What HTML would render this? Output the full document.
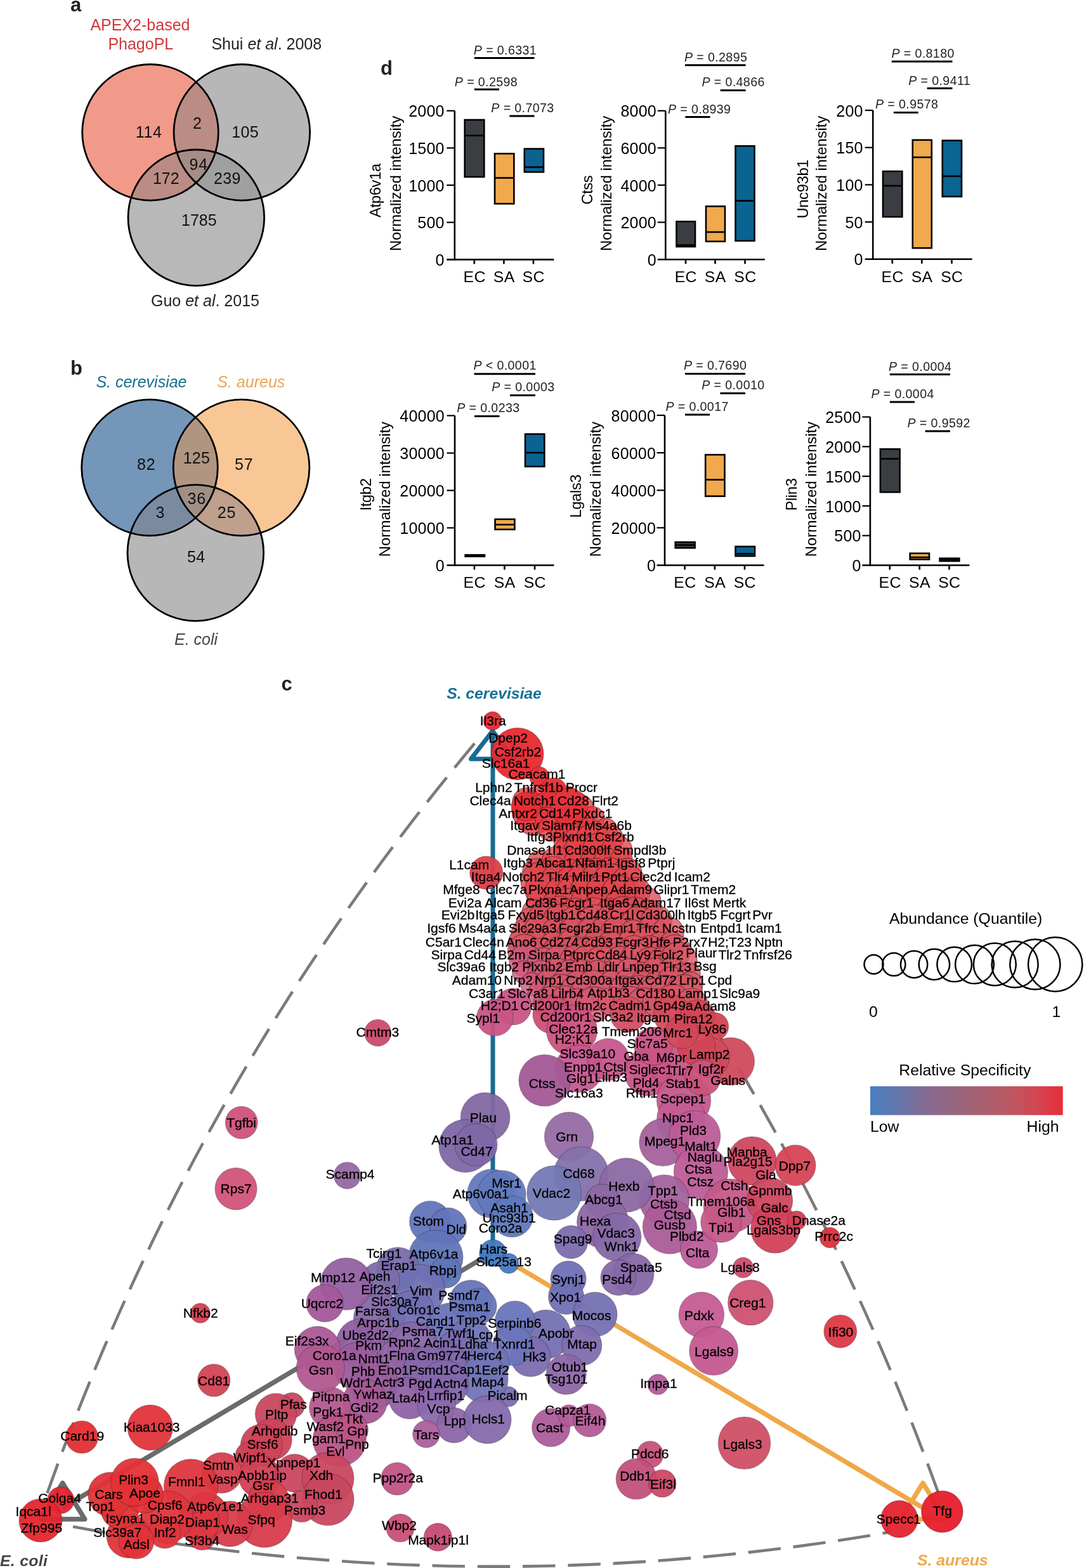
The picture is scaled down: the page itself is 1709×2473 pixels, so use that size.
<!DOCTYPE html>
<html><head><meta charset="utf-8"><title>Figure</title>
<style>
html,body{margin:0;padding:0;background:#fff;}
body{width:1709px;height:2473px;overflow:hidden;}
svg{display:block;font-family:"Liberation Sans", Arial, Helvetica, sans-serif;}
</style></head><body>
<svg width="1709" height="2473" viewBox="0 0 1709 2473">
<rect width="1709" height="2473" fill="#fff"/>
<text x="111" y="18" font-size="31" text-anchor="start" font-weight="bold" font-style="normal" fill="#231f20" >a</text>
<defs><clipPath id="vaA"><circle cx="237" cy="208.8" r="107.3"/></clipPath><clipPath id="vaB"><circle cx="381.3" cy="208.8" r="107.3"/></clipPath><clipPath id="vaC"><circle cx="309.3" cy="343.3" r="107.3"/></clipPath></defs>
<circle cx="237" cy="208.8" r="107.3" fill="#f19a8a"/>
<circle cx="381.3" cy="208.8" r="107.3" fill="#b7b7b7"/>
<circle cx="309.3" cy="343.3" r="107.3" fill="#b8b8b8"/>
<g clip-path="url(#vaA)"><circle cx="381.3" cy="208.8" r="107.3" fill="#bb8c84"/><circle cx="309.3" cy="343.3" r="107.3" fill="#bb8c84"/></g>
<g clip-path="url(#vaB)"><circle cx="309.3" cy="343.3" r="107.3" fill="#a0a0a1"/></g>
<g clip-path="url(#vaA)"><g clip-path="url(#vaB)"><circle cx="309.3" cy="343.3" r="107.3" fill="#a58c87"/></g></g>
<circle cx="237" cy="208.8" r="107.3" fill="none" stroke="#000" stroke-width="2.8"/>
<circle cx="381.3" cy="208.8" r="107.3" fill="none" stroke="#000" stroke-width="2.8"/>
<circle cx="309.3" cy="343.3" r="107.3" fill="none" stroke="#000" stroke-width="2.8"/>
<text x="142.4" y="47.8" font-size="25" text-anchor="start" font-weight="normal" font-style="normal" fill="#d2373c" >APEX2-based</text>
<text x="170.4" y="77.9" font-size="25" text-anchor="start" font-weight="normal" font-style="normal" fill="#d2373c" >PhagoPL</text>
<text x="333.4" y="77.6" font-size="25" fill="#231f20">Shui <tspan font-style="italic">et al</tspan>. 2008</text>
<text x="238" y="483" font-size="25" fill="#231f20">Guo <tspan font-style="italic">et al</tspan>. 2015</text>
<text x="213.83" y="216.5" font-size="25" text-anchor="start" font-weight="normal" font-style="normal" fill="#111" letter-spacing="0.6">114</text>
<text x="303.98" y="202.6" font-size="25" text-anchor="start" font-weight="normal" font-style="normal" fill="#111" letter-spacing="0">2</text>
<text x="365.23" y="216.5" font-size="25" text-anchor="start" font-weight="normal" font-style="normal" fill="#111" letter-spacing="0.4">105</text>
<text x="298.38" y="267.5" font-size="25" text-anchor="start" font-weight="normal" font-style="normal" fill="#111" letter-spacing="0.9">94</text>
<text x="240.93" y="289.6" font-size="25" text-anchor="start" font-weight="normal" font-style="normal" fill="#111" letter-spacing="0">172</text>
<text x="336.98" y="289.6" font-size="25" text-anchor="start" font-weight="normal" font-style="normal" fill="#111" letter-spacing="0.4">239</text>
<text x="286.03" y="356.3" font-size="25" text-anchor="start" font-weight="normal" font-style="normal" fill="#111" letter-spacing="0">1785</text>
<text x="111" y="590.8" font-size="31" text-anchor="start" font-weight="bold" font-style="normal" fill="#231f20" >b</text>
<defs><clipPath id="vbA"><circle cx="236" cy="737.5" r="107.3"/></clipPath><clipPath id="vbB"><circle cx="380.5" cy="737.5" r="107.3"/></clipPath><clipPath id="vbC"><circle cx="308.3" cy="872" r="107.3"/></clipPath></defs>
<circle cx="236" cy="737.5" r="107.3" fill="#7396b9"/>
<circle cx="380.5" cy="737.5" r="107.3" fill="#f8c795"/>
<circle cx="308.3" cy="872" r="107.3" fill="#b7b7b7"/>
<g clip-path="url(#vbA)"><circle cx="380.5" cy="737.5" r="107.3" fill="#b09581"/><circle cx="308.3" cy="872" r="107.3" fill="#7b8b9f"/></g>
<g clip-path="url(#vbB)"><circle cx="308.3" cy="872" r="107.3" fill="#bea08c"/></g>
<g clip-path="url(#vbA)"><g clip-path="url(#vbB)"><circle cx="308.3" cy="872" r="107.3" fill="#9f8f85"/></g></g>
<circle cx="236" cy="737.5" r="107.3" fill="none" stroke="#000" stroke-width="2.8"/>
<circle cx="380.5" cy="737.5" r="107.3" fill="none" stroke="#000" stroke-width="2.8"/>
<circle cx="308.3" cy="872" r="107.3" fill="none" stroke="#000" stroke-width="2.8"/>
<text x="151.4" y="610.6" font-size="25" text-anchor="start" font-weight="normal" font-style="italic" fill="#166e8c" >S. cerevisiae</text>
<text x="342.3" y="610.6" font-size="25" text-anchor="start" font-weight="normal" font-style="italic" fill="#eba555" >S. aureus</text>
<text x="275" y="1016.6" font-size="25" text-anchor="start" font-weight="normal" font-style="italic" fill="#454545" >E. coli</text>
<text x="215.98" y="740.5" font-size="25" text-anchor="start" font-weight="normal" font-style="normal" fill="#111" letter-spacing="0.9">82</text>
<text x="288.73" y="730.5" font-size="25" text-anchor="start" font-weight="normal" font-style="normal" fill="#111" letter-spacing="0.2">125</text>
<text x="370.07" y="740.5" font-size="25" text-anchor="start" font-weight="normal" font-style="normal" fill="#111" letter-spacing="0.9">57</text>
<text x="295.38" y="795.3" font-size="25" text-anchor="start" font-weight="normal" font-style="normal" fill="#111" letter-spacing="0.9">36</text>
<text x="245.38" y="816.6" font-size="25" text-anchor="start" font-weight="normal" font-style="normal" fill="#111" letter-spacing="0">3</text>
<text x="342.78" y="816.6" font-size="25" text-anchor="start" font-weight="normal" font-style="normal" fill="#111" letter-spacing="0.9">25</text>
<text x="294.98" y="887.2" font-size="25" text-anchor="start" font-weight="normal" font-style="normal" fill="#111" letter-spacing="0.5">54</text>
<text x="600" y="117.8" font-size="31" text-anchor="start" font-weight="bold" font-style="normal" fill="#231f20" >d</text>
<line x1="716.8" y1="174.7" x2="716.8" y2="410.59999999999997" stroke="#000" stroke-width="2.6"/>
<line x1="704.3" y1="409.4" x2="873.3" y2="409.4" stroke="#000" stroke-width="2.6"/>
<text x="700.6" y="419.0" font-size="25" text-anchor="end" font-weight="normal" font-style="normal" fill="#000" letter-spacing="0.2">0</text>
<line x1="704.3" y1="350.72499999999997" x2="716.8" y2="350.72499999999997" stroke="#000" stroke-width="2.2"/>
<text x="700.6" y="360.325" font-size="25" text-anchor="end" font-weight="normal" font-style="normal" fill="#000" letter-spacing="0.2">500</text>
<line x1="704.3" y1="292.04999999999995" x2="716.8" y2="292.04999999999995" stroke="#000" stroke-width="2.2"/>
<text x="700.6" y="301.65" font-size="25" text-anchor="end" font-weight="normal" font-style="normal" fill="#000" letter-spacing="0.2">1000</text>
<line x1="704.3" y1="233.375" x2="716.8" y2="233.375" stroke="#000" stroke-width="2.2"/>
<text x="700.6" y="242.975" font-size="25" text-anchor="end" font-weight="normal" font-style="normal" fill="#000" letter-spacing="0.2">1500</text>
<line x1="704.3" y1="174.7" x2="716.8" y2="174.7" stroke="#000" stroke-width="2.2"/>
<text x="700.6" y="184.29999999999998" font-size="25" text-anchor="end" font-weight="normal" font-style="normal" fill="#000" letter-spacing="0.2">2000</text>
<line x1="747.8" y1="409.4" x2="747.8" y2="416.4" stroke="#000" stroke-width="2.6"/>
<line x1="794.4" y1="409.4" x2="794.4" y2="416.4" stroke="#000" stroke-width="2.6"/>
<line x1="840.9" y1="409.4" x2="840.9" y2="416.4" stroke="#000" stroke-width="2.6"/>
<text x="748.0999999999999" y="445.2" font-size="24.8" text-anchor="middle" font-weight="normal" font-style="normal" fill="#000" letter-spacing="0.4">EC</text>
<text x="794.6999999999999" y="445.2" font-size="24.8" text-anchor="middle" font-weight="normal" font-style="normal" fill="#000" letter-spacing="0.4">SA</text>
<text x="841.1999999999999" y="445.2" font-size="24.8" text-anchor="middle" font-weight="normal" font-style="normal" fill="#000" letter-spacing="0.4">SC</text>
<rect x="732.7" y="189" width="30.59999999999991" height="90" fill="#3a3d42" stroke="#000" stroke-width="2.6"/>
<line x1="732.7" y1="213.8" x2="763.3" y2="213.8" stroke="#000" stroke-width="2.6"/>
<rect x="780" y="242.3" width="30.299999999999955" height="79.0" fill="#f0a94c" stroke="#000" stroke-width="2.6"/>
<line x1="780" y1="280.6" x2="810.3" y2="280.6" stroke="#000" stroke-width="2.6"/>
<rect x="826.8" y="234.7" width="30.200000000000045" height="36.60000000000002" fill="#0b6392" stroke="#000" stroke-width="2.6"/>
<line x1="826.8" y1="263.6" x2="857" y2="263.6" stroke="#000" stroke-width="2.6"/>
<text transform="translate(631.5,289.35) rotate(-90)" font-size="23.7" text-anchor="middle">Normalized intensity</text>
<text transform="translate(600,300.5) rotate(-90)" font-size="23.7" letter-spacing="-0.3" text-anchor="middle">Atp6v1a</text>
<text x="746.8" y="85.6" font-size="19.6" letter-spacing="0.4" fill="#222"><tspan font-style="italic">P</tspan> = 0.6331</text>
<line x1="747.8" y1="91.4" x2="842.5" y2="91.4" stroke="#000" stroke-width="3"/>
<text x="716.8" y="136.4" font-size="19.6" letter-spacing="0.4" fill="#222"><tspan font-style="italic">P</tspan> = 0.2598</text>
<line x1="747.8" y1="141" x2="787" y2="141" stroke="#000" stroke-width="3"/>
<text x="774.3" y="176.5" font-size="19.6" letter-spacing="0.4" fill="#222"><tspan font-style="italic">P</tspan> = 0.7073</text>
<line x1="803.3" y1="183" x2="842.5" y2="183" stroke="#000" stroke-width="3"/>
<line x1="1049.3" y1="174.7" x2="1049.3" y2="410.4" stroke="#000" stroke-width="2.6"/>
<line x1="1036.8" y1="409.2" x2="1205.8" y2="409.2" stroke="#000" stroke-width="2.6"/>
<text x="1034.8999999999999" y="418.8" font-size="25" text-anchor="end" font-weight="normal" font-style="normal" fill="#000" letter-spacing="0.2">0</text>
<line x1="1036.8" y1="350.575" x2="1049.3" y2="350.575" stroke="#000" stroke-width="2.2"/>
<text x="1034.8999999999999" y="360.175" font-size="25" text-anchor="end" font-weight="normal" font-style="normal" fill="#000" letter-spacing="0.2">2000</text>
<line x1="1036.8" y1="291.95" x2="1049.3" y2="291.95" stroke="#000" stroke-width="2.2"/>
<text x="1034.8999999999999" y="301.55" font-size="25" text-anchor="end" font-weight="normal" font-style="normal" fill="#000" letter-spacing="0.2">4000</text>
<line x1="1036.8" y1="233.325" x2="1049.3" y2="233.325" stroke="#000" stroke-width="2.2"/>
<text x="1034.8999999999999" y="242.92499999999998" font-size="25" text-anchor="end" font-weight="normal" font-style="normal" fill="#000" letter-spacing="0.2">6000</text>
<line x1="1036.8" y1="174.7" x2="1049.3" y2="174.7" stroke="#000" stroke-width="2.2"/>
<text x="1034.8999999999999" y="184.29999999999998" font-size="25" text-anchor="end" font-weight="normal" font-style="normal" fill="#000" letter-spacing="0.2">8000</text>
<line x1="1081" y1="409.2" x2="1081" y2="416.2" stroke="#000" stroke-width="2.6"/>
<line x1="1127.5" y1="409.2" x2="1127.5" y2="416.2" stroke="#000" stroke-width="2.6"/>
<line x1="1174.6" y1="409.2" x2="1174.6" y2="416.2" stroke="#000" stroke-width="2.6"/>
<text x="1081.3" y="445.0" font-size="24.8" text-anchor="middle" font-weight="normal" font-style="normal" fill="#000" letter-spacing="0.4">EC</text>
<text x="1127.8" y="445.0" font-size="24.8" text-anchor="middle" font-weight="normal" font-style="normal" fill="#000" letter-spacing="0.4">SA</text>
<text x="1174.8999999999999" y="445.0" font-size="24.8" text-anchor="middle" font-weight="normal" font-style="normal" fill="#000" letter-spacing="0.4">SC</text>
<rect x="1066.5" y="349.4" width="29.5" height="39.60000000000002" fill="#3a3d42" stroke="#000" stroke-width="2.6"/>
<line x1="1066.5" y1="386.6" x2="1096" y2="386.6" stroke="#000" stroke-width="2.6"/>
<rect x="1113" y="325.4" width="30" height="55.400000000000034" fill="#f0a94c" stroke="#000" stroke-width="2.6"/>
<line x1="1113" y1="366" x2="1143" y2="366" stroke="#000" stroke-width="2.6"/>
<rect x="1159.5" y="230.3" width="30.0" height="149.5" fill="#0b6392" stroke="#000" stroke-width="2.6"/>
<line x1="1159.5" y1="316.7" x2="1189.5" y2="316.7" stroke="#000" stroke-width="2.6"/>
<text transform="translate(964,289.35) rotate(-90)" font-size="23.7" text-anchor="middle">Normalized intensity</text>
<text transform="translate(933.5,299.7) rotate(-90)" font-size="23.7" letter-spacing="-0.3" text-anchor="middle">Ctss</text>
<text x="1078.9" y="96.5" font-size="19.6" letter-spacing="0.4" fill="#222"><tspan font-style="italic">P</tspan> = 0.2895</text>
<line x1="1080" y1="102.7" x2="1175.6" y2="102.7" stroke="#000" stroke-width="3"/>
<text x="1106.4" y="136.4" font-size="19.6" letter-spacing="0.4" fill="#222"><tspan font-style="italic">P</tspan> = 0.4866</text>
<line x1="1135.7" y1="142.6" x2="1175.6" y2="142.6" stroke="#000" stroke-width="3"/>
<text x="1053" y="179.2" font-size="19.6" letter-spacing="0.4" fill="#222"><tspan font-style="italic">P</tspan> = 0.8939</text>
<line x1="1080.3" y1="184.4" x2="1119.6" y2="184.4" stroke="#000" stroke-width="3"/>
<line x1="1376.2" y1="174" x2="1376.2" y2="410.0" stroke="#000" stroke-width="2.6"/>
<line x1="1363.7" y1="408.8" x2="1532.7" y2="408.8" stroke="#000" stroke-width="2.6"/>
<text x="1360.6" y="418.40000000000003" font-size="25" text-anchor="end" font-weight="normal" font-style="normal" fill="#000" letter-spacing="0.2">0</text>
<line x1="1363.7" y1="350.1" x2="1376.2" y2="350.1" stroke="#000" stroke-width="2.2"/>
<text x="1360.6" y="359.70000000000005" font-size="25" text-anchor="end" font-weight="normal" font-style="normal" fill="#000" letter-spacing="0.2">50</text>
<line x1="1363.7" y1="291.4" x2="1376.2" y2="291.4" stroke="#000" stroke-width="2.2"/>
<text x="1360.6" y="301.0" font-size="25" text-anchor="end" font-weight="normal" font-style="normal" fill="#000" letter-spacing="0.2">100</text>
<line x1="1363.7" y1="232.7" x2="1376.2" y2="232.7" stroke="#000" stroke-width="2.2"/>
<text x="1360.6" y="242.29999999999998" font-size="25" text-anchor="end" font-weight="normal" font-style="normal" fill="#000" letter-spacing="0.2">150</text>
<line x1="1363.7" y1="174.0" x2="1376.2" y2="174.0" stroke="#000" stroke-width="2.2"/>
<text x="1360.6" y="183.6" font-size="25" text-anchor="end" font-weight="normal" font-style="normal" fill="#000" letter-spacing="0.2">200</text>
<line x1="1406.8" y1="408.8" x2="1406.8" y2="415.8" stroke="#000" stroke-width="2.6"/>
<line x1="1453.3" y1="408.8" x2="1453.3" y2="415.8" stroke="#000" stroke-width="2.6"/>
<line x1="1500.5" y1="408.8" x2="1500.5" y2="415.8" stroke="#000" stroke-width="2.6"/>
<text x="1407.1" y="444.6" font-size="24.8" text-anchor="middle" font-weight="normal" font-style="normal" fill="#000" letter-spacing="0.4">EC</text>
<text x="1453.6" y="444.6" font-size="24.8" text-anchor="middle" font-weight="normal" font-style="normal" fill="#000" letter-spacing="0.4">SA</text>
<text x="1500.8" y="444.6" font-size="24.8" text-anchor="middle" font-weight="normal" font-style="normal" fill="#000" letter-spacing="0.4">SC</text>
<rect x="1392" y="270.2" width="30.299999999999955" height="71.80000000000001" fill="#3a3d42" stroke="#000" stroke-width="2.6"/>
<line x1="1392" y1="293" x2="1422.3" y2="293" stroke="#000" stroke-width="2.6"/>
<rect x="1438.8" y="220.8" width="30.0" height="170.39999999999998" fill="#f0a94c" stroke="#000" stroke-width="2.6"/>
<line x1="1438.8" y1="248.1" x2="1468.8" y2="248.1" stroke="#000" stroke-width="2.6"/>
<rect x="1485.8" y="221.6" width="30.200000000000045" height="88.4" fill="#0b6392" stroke="#000" stroke-width="2.6"/>
<line x1="1485.8" y1="277.9" x2="1516" y2="277.9" stroke="#000" stroke-width="2.6"/>
<text transform="translate(1303,289.35) rotate(-90)" font-size="23.7" text-anchor="middle">Normalized intensity</text>
<text transform="translate(1273.5,298.2) rotate(-90)" font-size="23.7" letter-spacing="-0.3" text-anchor="middle">Unc93b1</text>
<text x="1405.4" y="91.4" font-size="19.6" letter-spacing="0.4" fill="#222"><tspan font-style="italic">P</tspan> = 0.8180</text>
<line x1="1405.8" y1="97.1" x2="1501.5" y2="97.1" stroke="#000" stroke-width="3"/>
<text x="1432.2" y="133.7" font-size="19.6" letter-spacing="0.4" fill="#222"><tspan font-style="italic">P</tspan> = 0.9411</text>
<line x1="1461.6" y1="139.3" x2="1501.5" y2="139.3" stroke="#000" stroke-width="3"/>
<text x="1380" y="171" font-size="19.6" letter-spacing="0.4" fill="#222"><tspan font-style="italic">P</tspan> = 0.9578</text>
<line x1="1408.9" y1="177.6" x2="1447.7" y2="177.6" stroke="#000" stroke-width="3"/>
<line x1="717" y1="655.5" x2="717" y2="892.7" stroke="#000" stroke-width="2.6"/>
<line x1="704.5" y1="891.5" x2="873.5" y2="891.5" stroke="#000" stroke-width="2.6"/>
<text x="700.9" y="901.1" font-size="25" text-anchor="end" font-weight="normal" font-style="normal" fill="#000" letter-spacing="0.2">0</text>
<line x1="704.5" y1="832.5" x2="717" y2="832.5" stroke="#000" stroke-width="2.2"/>
<text x="700.9" y="842.1" font-size="25" text-anchor="end" font-weight="normal" font-style="normal" fill="#000" letter-spacing="0.2">10000</text>
<line x1="704.5" y1="773.5" x2="717" y2="773.5" stroke="#000" stroke-width="2.2"/>
<text x="700.9" y="783.1" font-size="25" text-anchor="end" font-weight="normal" font-style="normal" fill="#000" letter-spacing="0.2">20000</text>
<line x1="704.5" y1="714.5" x2="717" y2="714.5" stroke="#000" stroke-width="2.2"/>
<text x="700.9" y="724.1" font-size="25" text-anchor="end" font-weight="normal" font-style="normal" fill="#000" letter-spacing="0.2">30000</text>
<line x1="704.5" y1="655.5" x2="717" y2="655.5" stroke="#000" stroke-width="2.2"/>
<text x="700.9" y="665.1" font-size="25" text-anchor="end" font-weight="normal" font-style="normal" fill="#000" letter-spacing="0.2">40000</text>
<line x1="747.9" y1="891.5" x2="747.9" y2="898.5" stroke="#000" stroke-width="2.6"/>
<line x1="795.4" y1="891.5" x2="795.4" y2="898.5" stroke="#000" stroke-width="2.6"/>
<line x1="843" y1="891.5" x2="843" y2="898.5" stroke="#000" stroke-width="2.6"/>
<text x="748.1999999999999" y="927.3" font-size="24.8" text-anchor="middle" font-weight="normal" font-style="normal" fill="#000" letter-spacing="0.4">EC</text>
<text x="795.6999999999999" y="927.3" font-size="24.8" text-anchor="middle" font-weight="normal" font-style="normal" fill="#000" letter-spacing="0.4">SA</text>
<text x="843.3" y="927.3" font-size="24.8" text-anchor="middle" font-weight="normal" font-style="normal" fill="#000" letter-spacing="0.4">SC</text>
<rect x="733.6" y="875.2" width="30.399999999999977" height="2.3999999999999773" fill="#3a3d42" stroke="#000" stroke-width="2.6"/>
<line x1="733.6" y1="876.4" x2="764" y2="876.4" stroke="#000" stroke-width="2.6"/>
<rect x="780.5" y="818.9" width="30.899999999999977" height="16.100000000000023" fill="#f0a94c" stroke="#000" stroke-width="2.6"/>
<line x1="780.5" y1="827.4" x2="811.4" y2="827.4" stroke="#000" stroke-width="2.6"/>
<rect x="828" y="684.6" width="30.299999999999955" height="51.19999999999993" fill="#0b6392" stroke="#000" stroke-width="2.6"/>
<line x1="828" y1="714" x2="858.3" y2="714" stroke="#000" stroke-width="2.6"/>
<text transform="translate(615.3,771.5) rotate(-90)" font-size="23.7" text-anchor="middle">Normalized intensity</text>
<text transform="translate(584.5,780) rotate(-90)" font-size="23.7" letter-spacing="-0.3" text-anchor="middle">Itgb2</text>
<text x="746.4" y="583.4" font-size="19.6" letter-spacing="0.4" fill="#222"><tspan font-style="italic">P</tspan> &lt; 0.0001</text>
<line x1="747.5" y1="589.8" x2="844" y2="589.8" stroke="#000" stroke-width="3"/>
<text x="775.2" y="617" font-size="19.6" letter-spacing="0.4" fill="#222"><tspan font-style="italic">P</tspan> = 0.0003</text>
<line x1="804" y1="623.5" x2="844" y2="623.5" stroke="#000" stroke-width="3"/>
<text x="720.2" y="649.7" font-size="19.6" letter-spacing="0.4" fill="#222"><tspan font-style="italic">P</tspan> = 0.0233</text>
<line x1="748" y1="656.5" x2="787.5" y2="656.5" stroke="#000" stroke-width="3"/>
<line x1="1048" y1="655" x2="1048" y2="892.7" stroke="#000" stroke-width="2.6"/>
<line x1="1035.5" y1="891.5" x2="1204.5" y2="891.5" stroke="#000" stroke-width="2.6"/>
<text x="1034.1" y="901.1" font-size="25" text-anchor="end" font-weight="normal" font-style="normal" fill="#000" letter-spacing="0.2">0</text>
<line x1="1035.5" y1="832.375" x2="1048" y2="832.375" stroke="#000" stroke-width="2.2"/>
<text x="1034.1" y="841.975" font-size="25" text-anchor="end" font-weight="normal" font-style="normal" fill="#000" letter-spacing="0.2">20000</text>
<line x1="1035.5" y1="773.25" x2="1048" y2="773.25" stroke="#000" stroke-width="2.2"/>
<text x="1034.1" y="782.85" font-size="25" text-anchor="end" font-weight="normal" font-style="normal" fill="#000" letter-spacing="0.2">40000</text>
<line x1="1035.5" y1="714.125" x2="1048" y2="714.125" stroke="#000" stroke-width="2.2"/>
<text x="1034.1" y="723.725" font-size="25" text-anchor="end" font-weight="normal" font-style="normal" fill="#000" letter-spacing="0.2">60000</text>
<line x1="1035.5" y1="655.0" x2="1048" y2="655.0" stroke="#000" stroke-width="2.2"/>
<text x="1034.1" y="664.6" font-size="25" text-anchor="end" font-weight="normal" font-style="normal" fill="#000" letter-spacing="0.2">80000</text>
<line x1="1079.6" y1="891.5" x2="1079.6" y2="898.5" stroke="#000" stroke-width="2.6"/>
<line x1="1126.9" y1="891.5" x2="1126.9" y2="898.5" stroke="#000" stroke-width="2.6"/>
<line x1="1174" y1="891.5" x2="1174" y2="898.5" stroke="#000" stroke-width="2.6"/>
<text x="1079.8999999999999" y="927.3" font-size="24.8" text-anchor="middle" font-weight="normal" font-style="normal" fill="#000" letter-spacing="0.4">EC</text>
<text x="1127.2" y="927.3" font-size="24.8" text-anchor="middle" font-weight="normal" font-style="normal" fill="#000" letter-spacing="0.4">SA</text>
<text x="1174.3" y="927.3" font-size="24.8" text-anchor="middle" font-weight="normal" font-style="normal" fill="#000" letter-spacing="0.4">SC</text>
<rect x="1064.7" y="855" width="30.899999999999864" height="9.200000000000045" fill="#3a3d42" stroke="#000" stroke-width="2.6"/>
<line x1="1064.7" y1="859.6" x2="1095.6" y2="859.6" stroke="#000" stroke-width="2.6"/>
<rect x="1112.2" y="717.2" width="30.299999999999955" height="65.39999999999998" fill="#f0a94c" stroke="#000" stroke-width="2.6"/>
<line x1="1112.2" y1="756.6" x2="1142.5" y2="756.6" stroke="#000" stroke-width="2.6"/>
<rect x="1159.5" y="862" width="30.5" height="15" fill="#0b6392" stroke="#000" stroke-width="2.6"/>
<line x1="1159.5" y1="873.4" x2="1190" y2="873.4" stroke="#000" stroke-width="2.6"/>
<text transform="translate(946.5,771.5) rotate(-90)" font-size="23.7" text-anchor="middle">Normalized intensity</text>
<text transform="translate(915.5,782.7) rotate(-90)" font-size="23.7" letter-spacing="-0.3" text-anchor="middle">Lgals3</text>
<text x="1077.9" y="583.4" font-size="19.6" letter-spacing="0.4" fill="#222"><tspan font-style="italic">P</tspan> = 0.7690</text>
<line x1="1080" y1="589.4" x2="1175" y2="589.4" stroke="#000" stroke-width="3"/>
<text x="1106.2" y="614" font-size="19.6" letter-spacing="0.4" fill="#222"><tspan font-style="italic">P</tspan> = 0.0010</text>
<line x1="1135.4" y1="620.3" x2="1175" y2="620.3" stroke="#000" stroke-width="3"/>
<text x="1049.4" y="647.6" font-size="19.6" letter-spacing="0.4" fill="#222"><tspan font-style="italic">P</tspan> = 0.0017</text>
<line x1="1080" y1="654" x2="1119" y2="654" stroke="#000" stroke-width="3"/>
<line x1="1371.9" y1="657.6" x2="1371.9" y2="892.7" stroke="#000" stroke-width="2.6"/>
<line x1="1359.4" y1="891.5" x2="1528.4" y2="891.5" stroke="#000" stroke-width="2.6"/>
<text x="1357.6" y="901.1" font-size="25" text-anchor="end" font-weight="normal" font-style="normal" fill="#000" letter-spacing="0.2">0</text>
<line x1="1359.4" y1="844.72" x2="1371.9" y2="844.72" stroke="#000" stroke-width="2.2"/>
<text x="1357.6" y="854.32" font-size="25" text-anchor="end" font-weight="normal" font-style="normal" fill="#000" letter-spacing="0.2">500</text>
<line x1="1359.4" y1="797.94" x2="1371.9" y2="797.94" stroke="#000" stroke-width="2.2"/>
<text x="1357.6" y="807.5400000000001" font-size="25" text-anchor="end" font-weight="normal" font-style="normal" fill="#000" letter-spacing="0.2">1000</text>
<line x1="1359.4" y1="751.1600000000001" x2="1371.9" y2="751.1600000000001" stroke="#000" stroke-width="2.2"/>
<text x="1357.6" y="760.7600000000001" font-size="25" text-anchor="end" font-weight="normal" font-style="normal" fill="#000" letter-spacing="0.2">1500</text>
<line x1="1359.4" y1="704.38" x2="1371.9" y2="704.38" stroke="#000" stroke-width="2.2"/>
<text x="1357.6" y="713.98" font-size="25" text-anchor="end" font-weight="normal" font-style="normal" fill="#000" letter-spacing="0.2">2000</text>
<line x1="1359.4" y1="657.6" x2="1371.9" y2="657.6" stroke="#000" stroke-width="2.2"/>
<text x="1357.6" y="667.2" font-size="25" text-anchor="end" font-weight="normal" font-style="normal" fill="#000" letter-spacing="0.2">2500</text>
<line x1="1402.8" y1="891.5" x2="1402.8" y2="898.5" stroke="#000" stroke-width="2.6"/>
<line x1="1449.7" y1="891.5" x2="1449.7" y2="898.5" stroke="#000" stroke-width="2.6"/>
<line x1="1496.5" y1="891.5" x2="1496.5" y2="898.5" stroke="#000" stroke-width="2.6"/>
<text x="1403.1" y="927.3" font-size="24.8" text-anchor="middle" font-weight="normal" font-style="normal" fill="#000" letter-spacing="0.4">EC</text>
<text x="1450.0" y="927.3" font-size="24.8" text-anchor="middle" font-weight="normal" font-style="normal" fill="#000" letter-spacing="0.4">SA</text>
<text x="1496.8" y="927.3" font-size="24.8" text-anchor="middle" font-weight="normal" font-style="normal" fill="#000" letter-spacing="0.4">SC</text>
<rect x="1387.9" y="708.3" width="30.699999999999818" height="67.90000000000009" fill="#3a3d42" stroke="#000" stroke-width="2.6"/>
<line x1="1387.9" y1="723.6" x2="1418.6" y2="723.6" stroke="#000" stroke-width="2.6"/>
<rect x="1434.7" y="872.7" width="30.299999999999955" height="9.599999999999909" fill="#f0a94c" stroke="#000" stroke-width="2.6"/>
<line x1="1434.7" y1="879" x2="1465" y2="879" stroke="#000" stroke-width="2.6"/>
<rect x="1481.6" y="880.6" width="30.700000000000045" height="4.2999999999999545" fill="#1a3a4a" stroke="#000" stroke-width="2.6"/>
<line x1="1481.6" y1="882.7" x2="1512.3" y2="882.7" stroke="#000" stroke-width="2.6"/>
<text transform="translate(1287.2,771.5) rotate(-90)" font-size="23.7" text-anchor="middle">Normalized intensity</text>
<text transform="translate(1256.3,780) rotate(-90)" font-size="23.7" letter-spacing="-0.3" text-anchor="middle">Plin3</text>
<text x="1401" y="584.5" font-size="19.6" letter-spacing="0.4" fill="#222"><tspan font-style="italic">P</tspan> = 0.0004</text>
<line x1="1402.8" y1="590.5" x2="1498" y2="590.5" stroke="#000" stroke-width="3"/>
<text x="1373.4" y="627.8" font-size="19.6" letter-spacing="0.4" fill="#222"><tspan font-style="italic">P</tspan> = 0.0004</text>
<line x1="1402.8" y1="634.1" x2="1442" y2="634.1" stroke="#000" stroke-width="3"/>
<text x="1430.5" y="673.6" font-size="19.6" letter-spacing="0.4" fill="#222"><tspan font-style="italic">P</tspan> = 0.9592</text>
<line x1="1458.6" y1="680" x2="1498" y2="680" stroke="#000" stroke-width="3"/>
<path d="M752.0,1168.0 Q304.2,1703.6 72.0,2362.0" stroke="#7b7b7b" stroke-width="4.6" fill="none" stroke-linecap="butt" stroke-dasharray="49.5 19.9" stroke-dashoffset="-5.9"/>
<path d="M802.0,1168.0 Q1246.4,1705.7 1482.0,2362.0" stroke="#7b7b7b" stroke-width="4.6" fill="none" stroke-linecap="butt" stroke-dasharray="49.5 19.9" stroke-dashoffset="-5.2"/>
<path d="M95,2404 Q750,2531 1405,2416" stroke="#7b7b7b" stroke-width="4.6" fill="none" stroke-linecap="butt" stroke-dasharray="51.5 19.8" stroke-dashoffset="-20.3"/>
<line x1="777" y1="1152" x2="777" y2="1975" stroke="#186b94" stroke-width="7"/>
<path d="M742.5,1197 L776.5,1153 L810.5,1197 Z" fill="none" stroke="#186b94" stroke-width="7" stroke-linejoin="round"/>
<line x1="777" y1="1975" x2="98.7" y2="2378" stroke="#6b6b6b" stroke-width="7.5"/>
<path d="M63.7,2396 L98.7,2339 L133.7,2396 Z" fill="none" stroke="#6b6b6b" stroke-width="7.5" stroke-linejoin="round"/>
<line x1="777" y1="1975" x2="1455" y2="2378" stroke="#f0a848" stroke-width="7.5"/>
<path d="M1420,2396 L1455,2339 L1490,2396 Z" fill="none" stroke="#f0a848" stroke-width="7.5" stroke-linejoin="round"/>
<g fill-opacity="0.8" stroke="#2a1018" stroke-opacity="0.5" stroke-width="1.2">
<circle cx="830.8" cy="1265.0" r="23.0" fill="#e8383e"/>
<circle cx="855.9" cy="1261.0" r="25.2" fill="#e8383e"/>
<circle cx="875.3" cy="1259.6" r="20.0" fill="#e8383e"/>
<circle cx="891.7" cy="1264.5" r="24.7" fill="#e73c42"/>
<circle cx="836.6" cy="1279.6" r="29.5" fill="#e8383e"/>
<circle cx="863.7" cy="1275.1" r="26.5" fill="#e8383e"/>
<circle cx="885.4" cy="1278.3" r="25.1" fill="#e63d43"/>
<circle cx="908.1" cy="1280.7" r="30.0" fill="#e63e44"/>
<circle cx="840.7" cy="1292.8" r="24.7" fill="#e8383e"/>
<circle cx="862.5" cy="1291.8" r="19.2" fill="#e73a40"/>
<circle cx="881.9" cy="1296.7" r="22.9" fill="#e63e44"/>
<circle cx="905.6" cy="1294.5" r="23.5" fill="#e63e44"/>
<circle cx="934.3" cy="1291.0" r="19.0" fill="#e63f45"/>
<circle cx="868.4" cy="1307.0" r="19.7" fill="#e63e44"/>
<circle cx="885.6" cy="1310.6" r="16.8" fill="#e63e44"/>
<circle cx="904.3" cy="1312.6" r="22.2" fill="#e63e44"/>
<circle cx="928.9" cy="1307.8" r="17.9" fill="#e54046"/>
<circle cx="955.1" cy="1308.8" r="18.2" fill="#e44147"/>
<circle cx="895.3" cy="1324.0" r="22.7" fill="#e63e44"/>
<circle cx="912.4" cy="1328.8" r="25.0" fill="#e44248"/>
<circle cx="934.4" cy="1326.2" r="27.2" fill="#e44248"/>
<circle cx="960.9" cy="1323.1" r="22.0" fill="#e44248"/>
<circle cx="896.3" cy="1342.9" r="23.3" fill="#e44147"/>
<circle cx="917.5" cy="1344.4" r="28.7" fill="#e44248"/>
<circle cx="944.4" cy="1339.6" r="25.7" fill="#e44248"/>
<circle cx="972.5" cy="1341.1" r="24.3" fill="#e34349"/>
<circle cx="850.7" cy="1360.9" r="19.4" fill="#e0464e"/>
<circle cx="877.2" cy="1357.9" r="22.9" fill="#e2434b"/>
<circle cx="907.9" cy="1355.2" r="17.4" fill="#e44248"/>
<circle cx="935.6" cy="1359.9" r="21.2" fill="#e44248"/>
<circle cx="957.7" cy="1359.5" r="21.7" fill="#e3434a"/>
<circle cx="979.6" cy="1355.1" r="17.3" fill="#e2444b"/>
<circle cx="846.0" cy="1376.3" r="22.5" fill="#e0464e"/>
<circle cx="872.7" cy="1371.4" r="20.9" fill="#e0464e"/>
<circle cx="899.8" cy="1373.4" r="18.1" fill="#e3434a"/>
<circle cx="921.4" cy="1377.0" r="23.4" fill="#e3434a"/>
<circle cx="939.6" cy="1372.7" r="19.1" fill="#e2444b"/>
<circle cx="961.5" cy="1371.9" r="19.5" fill="#e0464d"/>
<circle cx="988.7" cy="1376.7" r="23.3" fill="#e0464e"/>
<circle cx="850.4" cy="1389.6" r="29.4" fill="#e0464e"/>
<circle cx="877.7" cy="1387.3" r="24.1" fill="#e0464e"/>
<circle cx="901.7" cy="1392.2" r="26.5" fill="#e1454d"/>
<circle cx="920.1" cy="1391.3" r="28.6" fill="#e1454d"/>
<circle cx="938.9" cy="1387.0" r="23.4" fill="#e0464e"/>
<circle cx="963.5" cy="1390.7" r="28.3" fill="#e0464e"/>
<circle cx="990.7" cy="1392.6" r="27.0" fill="#e0464e"/>
<circle cx="853.3" cy="1403.3" r="25.8" fill="#e0464e"/>
<circle cx="881.5" cy="1405.7" r="21.7" fill="#e0464e"/>
<circle cx="903.9" cy="1408.9" r="27.2" fill="#e0474f"/>
<circle cx="923.4" cy="1404.4" r="24.0" fill="#e0464e"/>
<circle cx="947.1" cy="1404.1" r="22.8" fill="#e0464e"/>
<circle cx="975.8" cy="1408.8" r="27.6" fill="#e0464e"/>
<circle cx="1003.2" cy="1406.1" r="22.4" fill="#e0474f"/>
<circle cx="848.0" cy="1419.5" r="17.5" fill="#e0464e"/>
<circle cx="874.2" cy="1424.4" r="18.4" fill="#e0474f"/>
<circle cx="895.2" cy="1423.0" r="21.8" fill="#df4952"/>
<circle cx="917.1" cy="1419.0" r="16.4" fill="#df4851"/>
<circle cx="944.9" cy="1422.9" r="20.2" fill="#e0464e"/>
<circle cx="974.8" cy="1424.4" r="20.6" fill="#e0464e"/>
<circle cx="1000.0" cy="1419.5" r="16.2" fill="#df4750"/>
<circle cx="1020.5" cy="1421.2" r="21.6" fill="#dd4d57"/>
<circle cx="842.6" cy="1438.0" r="19.4" fill="#de4b54"/>
<circle cx="864.0" cy="1440.8" r="24.4" fill="#dd4d57"/>
<circle cx="883.0" cy="1436.2" r="22.7" fill="#dd4b55"/>
<circle cx="906.5" cy="1436.4" r="20.0" fill="#dc4d58"/>
<circle cx="934.8" cy="1440.9" r="25.3" fill="#dc4f5a"/>
<circle cx="961.2" cy="1437.8" r="20.9" fill="#de4952"/>
<circle cx="981.8" cy="1435.2" r="21.4" fill="#df4851"/>
<circle cx="1001.1" cy="1440.0" r="25.2" fill="#dc4d58"/>
<circle cx="1025.7" cy="1439.4" r="19.7" fill="#da515d"/>
<circle cx="839.1" cy="1456.5" r="25.4" fill="#da525e"/>
<circle cx="859.5" cy="1454.7" r="30.0" fill="#da525e"/>
<circle cx="881.6" cy="1451.0" r="24.7" fill="#db505c"/>
<circle cx="909.5" cy="1455.2" r="27.2" fill="#da515d"/>
<circle cx="938.9" cy="1456.2" r="29.1" fill="#da525e"/>
<circle cx="963.3" cy="1451.4" r="24.0" fill="#db505c"/>
<circle cx="983.4" cy="1453.5" r="28.9" fill="#db4f5a"/>
<circle cx="1006.3" cy="1457.0" r="27.5" fill="#da515d"/>
<circle cx="1035.0" cy="1452.6" r="24.4" fill="#da525e"/>
<circle cx="829.8" cy="1472.7" r="23.8" fill="#da525e"/>
<circle cx="849.8" cy="1467.9" r="23.8" fill="#da525e"/>
<circle cx="874.6" cy="1468.6" r="19.7" fill="#da525e"/>
<circle cx="903.9" cy="1473.0" r="25.2" fill="#da525e"/>
<circle cx="930.8" cy="1469.5" r="21.9" fill="#da525e"/>
<circle cx="951.8" cy="1467.4" r="20.8" fill="#da525e"/>
<circle cx="972.2" cy="1472.2" r="25.6" fill="#da525e"/>
<circle cx="998.1" cy="1471.2" r="20.4" fill="#da525e"/>
<circle cx="1027.5" cy="1467.0" r="22.5" fill="#da525e"/>
<circle cx="1053.3" cy="1470.8" r="24.8" fill="#da525e"/>
<circle cx="823.6" cy="1486.4" r="22.1" fill="#da525f"/>
<circle cx="844.8" cy="1483.1" r="17.4" fill="#da525e"/>
<circle cx="871.8" cy="1487.5" r="18.4" fill="#da525e"/>
<circle cx="899.7" cy="1488.0" r="21.8" fill="#da525f"/>
<circle cx="922.3" cy="1483.2" r="16.3" fill="#da525e"/>
<circle cx="941.1" cy="1485.8" r="20.2" fill="#da525e"/>
<circle cx="963.2" cy="1488.9" r="20.5" fill="#da525e"/>
<circle cx="990.9" cy="1484.3" r="16.2" fill="#da525f"/>
<circle cx="1018.2" cy="1484.2" r="21.6" fill="#da525e"/>
<circle cx="1039.9" cy="1488.9" r="18.7" fill="#da525e"/>
<circle cx="1058.7" cy="1486.0" r="17.2" fill="#da525e"/>
<circle cx="826.9" cy="1499.7" r="26.4" fill="#d85364"/>
<circle cx="851.4" cy="1500.9" r="21.4" fill="#da525f"/>
<circle cx="880.0" cy="1505.0" r="26.5" fill="#d85363"/>
<circle cx="905.5" cy="1501.2" r="24.7" fill="#d95360"/>
<circle cx="925.5" cy="1499.5" r="22.0" fill="#da525e"/>
<circle cx="945.3" cy="1504.4" r="27.4" fill="#da525e"/>
<circle cx="970.8" cy="1502.9" r="22.9" fill="#d95360"/>
<circle cx="999.4" cy="1499.0" r="23.5" fill="#d95360"/>
<circle cx="1024.0" cy="1503.0" r="27.2" fill="#da525e"/>
<circle cx="1043.3" cy="1504.3" r="21.7" fill="#da525e"/>
<circle cx="1063.9" cy="1499.5" r="25.3" fill="#da525e"/>
<circle cx="828.6" cy="1515.1" r="25.7" fill="#cf587a"/>
<circle cx="856.3" cy="1519.7" r="25.0" fill="#d25773"/>
<circle cx="884.4" cy="1519.7" r="29.5" fill="#d5576b"/>
<circle cx="906.9" cy="1515.1" r="24.2" fill="#d75565"/>
<circle cx="926.1" cy="1518.1" r="26.7" fill="#d95361"/>
<circle cx="949.0" cy="1520.8" r="28.6" fill="#d95462"/>
<circle cx="977.3" cy="1516.1" r="23.5" fill="#d75666"/>
<circle cx="1004.7" cy="1516.4" r="28.4" fill="#d85564"/>
<circle cx="1026.3" cy="1520.9" r="27.0" fill="#d95360"/>
<circle cx="1045.6" cy="1517.7" r="24.0" fill="#d9535f"/>
<circle cx="1069.6" cy="1515.3" r="29.4" fill="#d85461"/>
<circle cx="825.6" cy="1533.2" r="17.8" fill="#ce587c"/>
<circle cx="853.6" cy="1537.0" r="22.0" fill="#cf5879"/>
<circle cx="878.1" cy="1532.9" r="21.8" fill="#d5586c"/>
<circle cx="897.2" cy="1531.7" r="17.8" fill="#d5586b"/>
<circle cx="916.8" cy="1536.6" r="23.3" fill="#d5576b"/>
<circle cx="942.2" cy="1534.6" r="20.0" fill="#d75668"/>
<circle cx="970.1" cy="1531.0" r="18.9" fill="#d6586a"/>
<circle cx="993.7" cy="1535.3" r="23.6" fill="#d6586a"/>
<circle cx="1012.3" cy="1536.1" r="18.4" fill="#d65769"/>
<circle cx="1032.7" cy="1531.3" r="20.7" fill="#d85563"/>
<circle cx="1059.0" cy="1533.6" r="22.9" fill="#d65664"/>
<circle cx="1086.6" cy="1536.9" r="17.7" fill="#d65664"/>
<circle cx="838.5" cy="1552.0" r="17.8" fill="#ce587c"/>
<circle cx="867.1" cy="1551.5" r="23.1" fill="#d5586c"/>
<circle cx="890.0" cy="1547.1" r="18.4" fill="#d6586a"/>
<circle cx="910.0" cy="1550.4" r="19.4" fill="#d5586c"/>
<circle cx="934.2" cy="1552.7" r="22.7" fill="#d5586c"/>
<circle cx="963.5" cy="1547.9" r="17.3" fill="#d6586a"/>
<circle cx="991.3" cy="1548.7" r="21.2" fill="#d6586a"/>
<circle cx="1013.3" cy="1553.0" r="21.4" fill="#d6586a"/>
<circle cx="1033.5" cy="1549.4" r="17.2" fill="#d65665"/>
<circle cx="1058.8" cy="1547.4" r="22.6" fill="#d65664"/>
<circle cx="1088.4" cy="1552.3" r="19.6" fill="#d65664"/>
<circle cx="858.6" cy="1569.0" r="26.5" fill="#d05876"/>
<circle cx="884.4" cy="1564.6" r="28.0" fill="#d6586a"/>
<circle cx="904.9" cy="1563.9" r="23.1" fill="#d5586c"/>
<circle cx="926.5" cy="1568.7" r="28.2" fill="#d45870"/>
<circle cx="953.9" cy="1566.3" r="26.3" fill="#d6586a"/>
<circle cx="983.4" cy="1563.1" r="23.7" fill="#d6586a"/>
<circle cx="1008.1" cy="1567.6" r="29.0" fill="#d6586a"/>
<circle cx="1028.2" cy="1567.9" r="24.5" fill="#d65768"/>
<circle cx="1050.7" cy="1563.2" r="25.2" fill="#d65664"/>
<circle cx="1079.0" cy="1565.9" r="28.8" fill="#d65664"/>
<circle cx="869.1" cy="1583.2" r="27.9" fill="#d05876"/>
<circle cx="891.5" cy="1579.0" r="24.2" fill="#d35871"/>
<circle cx="911.6" cy="1582.7" r="23.6" fill="#d25875"/>
<circle cx="936.2" cy="1584.5" r="28.1" fill="#d35974"/>
<circle cx="965.6" cy="1579.7" r="22.7" fill="#d6586a"/>
<circle cx="993.0" cy="1581.0" r="25.4" fill="#d6586a"/>
<circle cx="1014.6" cy="1585.0" r="27.2" fill="#d6586a"/>
<circle cx="1035.1" cy="1581.1" r="22.1" fill="#d65666"/>
<circle cx="1060.8" cy="1579.6" r="27.1" fill="#d65664"/>
<circle cx="1090.4" cy="1584.5" r="25.5" fill="#d65664"/>
</g>
<g fill-opacity="0.95" stroke="#3a2030" stroke-opacity="0.3" stroke-width="1.3">
<circle cx="776.6" cy="1137.0" r="14.5" fill="#e72930"/>
<circle cx="816.0" cy="1189.0" r="41.0" fill="#e72930"/>
<circle cx="850.0" cy="1224.7" r="15.5" fill="#e72d33"/>
<circle cx="872.9" cy="1247.7" r="21.0" fill="#e72e34"/>
<circle cx="828.9" cy="1272.1" r="22.8" fill="#e72e34"/>
<circle cx="897.6" cy="1272.5" r="29.3" fill="#e5343a"/>
<circle cx="766.7" cy="1376.4" r="26.0" fill="#de3d47"/>
<circle cx="809.0" cy="1587.6" r="28.8" fill="#c95386"/>
<circle cx="780.3" cy="1605.0" r="28.8" fill="#c95386"/>
<circle cx="870.0" cy="1600.0" r="30.0" fill="#ce4f74"/>
<circle cx="901.4" cy="1625.0" r="40.0" fill="#cb517e"/>
<circle cx="913.0" cy="1685.6" r="37.5" fill="#c55890"/>
<circle cx="959.0" cy="1671.0" r="33.0" fill="#c6568c"/>
<circle cx="1022.0" cy="1691.0" r="37.5" fill="#c95386"/>
<circle cx="1060.0" cy="1680.0" r="35.0" fill="#c95486"/>
<circle cx="1030.0" cy="1650.0" r="30.0" fill="#c95384"/>
<circle cx="990.0" cy="1600.0" r="28.0" fill="#d34f63"/>
<circle cx="1060.0" cy="1600.0" r="30.0" fill="#d34c5c"/>
<circle cx="1100.0" cy="1605.0" r="28.0" fill="#d44452"/>
<circle cx="1126.6" cy="1618.9" r="22.0" fill="#d44351"/>
<circle cx="1152.0" cy="1674.0" r="37.5" fill="#d04b5c"/>
<circle cx="1078.0" cy="1735.4" r="42.6" fill="#c5588c"/>
<circle cx="858.6" cy="1704.0" r="40.6" fill="#a35895"/>
<circle cx="1118.0" cy="1668.0" r="32.0" fill="#d04a5c"/>
<circle cx="1098.0" cy="1650.0" r="30.0" fill="#d24556"/>
<circle cx="1075.0" cy="1628.0" r="26.0" fill="#d2475a"/>
<circle cx="1108.0" cy="1700.0" r="28.0" fill="#c9537b"/>
<circle cx="1074.0" cy="1764.5" r="38.3" fill="#c55c93"/>
<circle cx="1045.2" cy="1801.8" r="37.3" fill="#a3629b"/>
<circle cx="1095.3" cy="1792.2" r="40.5" fill="#bd5c97"/>
<circle cx="1104.9" cy="1848.6" r="42.6" fill="#bd5c97"/>
<circle cx="1047.3" cy="1892.3" r="39.4" fill="#a3629d"/>
<circle cx="1055.9" cy="1935.0" r="42.6" fill="#ac5c99"/>
<circle cx="1102.0" cy="1971.0" r="29.4" fill="#bd5c9b"/>
<circle cx="1151.7" cy="1902.0" r="42.6" fill="#c55888"/>
<circle cx="1136.8" cy="1927.5" r="32.0" fill="#c55888"/>
<circle cx="1185.8" cy="1831.0" r="38.3" fill="#ce4760"/>
<circle cx="1254.0" cy="1838.0" r="32.0" fill="#d64556"/>
<circle cx="1213.5" cy="1893.4" r="36.2" fill="#ce4760"/>
<circle cx="1222.0" cy="1938.0" r="38.3" fill="#d24058"/>
<circle cx="1256.0" cy="1925.0" r="15.0" fill="#d43e53"/>
<circle cx="1308.4" cy="1952.0" r="16.0" fill="#de323e"/>
<circle cx="765.1" cy="1762.1" r="38.8" fill="#8468a3"/>
<circle cx="733.6" cy="1807.3" r="41.7" fill="#7e68a6"/>
<circle cx="750.5" cy="1805.7" r="33.4" fill="#7e68a6"/>
<circle cx="897.0" cy="1792.6" r="38.6" fill="#956ba3"/>
<circle cx="916.3" cy="1851.3" r="42.9" fill="#8471ac"/>
<circle cx="873.7" cy="1881.5" r="42.9" fill="#7379b4"/>
<circle cx="987.5" cy="1869.0" r="42.6" fill="#8c68a3"/>
<circle cx="775.3" cy="1882.4" r="38.3" fill="#6279bd"/>
<circle cx="790.7" cy="1884.2" r="38.3" fill="#6279bd"/>
<circle cx="807.4" cy="1918.5" r="32.7" fill="#5e79bc"/>
<circle cx="678.3" cy="1926.9" r="32.7" fill="#6275bb"/>
<circle cx="706.5" cy="1934.3" r="29.3" fill="#6275ba"/>
<circle cx="949.5" cy="1894.1" r="26.6" fill="#8b69a4"/>
<circle cx="950.2" cy="1927.5" r="40.6" fill="#8c68a3"/>
<circle cx="900.5" cy="1959.0" r="26.0" fill="#7c6dad"/>
<circle cx="972.8" cy="1951.0" r="38.0" fill="#8668a6"/>
<circle cx="997.9" cy="2009.8" r="33.0" fill="#8668a8"/>
<circle cx="975.0" cy="2015.0" r="28.0" fill="#8669a8"/>
<circle cx="777.0" cy="1976.4" r="21.3" fill="#4079c1"/>
<circle cx="802.1" cy="1992.7" r="15.7" fill="#4779c1"/>
<circle cx="896.0" cy="2016.8" r="28.0" fill="#6f71b6"/>
<circle cx="892.6" cy="2045.0" r="28.0" fill="#6f71b6"/>
<circle cx="938.0" cy="2073.0" r="35.0" fill="#7571b4"/>
<circle cx="861.0" cy="2104.6" r="38.6" fill="#7570b3"/>
<circle cx="917.2" cy="2122.0" r="31.6" fill="#7e6dae"/>
<circle cx="836.5" cy="2139.6" r="31.6" fill="#7b6eb0"/>
<circle cx="812.0" cy="2083.5" r="31.6" fill="#6875bb"/>
<circle cx="808.4" cy="2122.0" r="31.6" fill="#6a75ba"/>
<circle cx="892.6" cy="2167.7" r="31.6" fill="#8c66a6"/>
<circle cx="801.4" cy="2202.8" r="15.8" fill="#7d6fb0"/>
<circle cx="687.0" cy="1983.0" r="42.9" fill="#6075b8"/>
<circle cx="627.2" cy="2001.0" r="33.8" fill="#796dac"/>
<circle cx="702.8" cy="2006.5" r="24.8" fill="#6075b8"/>
<circle cx="661.0" cy="2034.7" r="40.6" fill="#6f71b4"/>
<circle cx="600.0" cy="2020.0" r="30.0" fill="#7b6cab"/>
<circle cx="742.3" cy="2052.8" r="33.8" fill="#6675bb"/>
<circle cx="755.0" cy="2060.0" r="28.0" fill="#6675bb"/>
<circle cx="598.0" cy="2080.0" r="40.6" fill="#8468a8"/>
<circle cx="650.0" cy="2070.0" r="35.0" fill="#726fb2"/>
<circle cx="568.6" cy="2118.2" r="38.3" fill="#8e60a1"/>
<circle cx="710.0" cy="2090.0" r="35.0" fill="#6974b8"/>
<circle cx="740.0" cy="2115.0" r="35.0" fill="#6f73b6"/>
<circle cx="650.0" cy="2125.0" r="40.0" fill="#8767a8"/>
<circle cx="720.0" cy="2130.0" r="32.0" fill="#7b6db0"/>
<circle cx="630.0" cy="2150.0" r="38.0" fill="#9062a4"/>
<circle cx="700.0" cy="2152.0" r="36.0" fill="#8269ac"/>
<circle cx="770.0" cy="2150.0" r="33.0" fill="#7175b6"/>
<circle cx="563.0" cy="2155.0" r="37.6" fill="#9b5c9b"/>
<circle cx="675.7" cy="2162.7" r="40.0" fill="#8468ab"/>
<circle cx="763.4" cy="2175.2" r="37.6" fill="#7175b6"/>
<circle cx="700.8" cy="2182.7" r="37.6" fill="#8268ac"/>
<circle cx="590.0" cy="2185.0" r="38.0" fill="#9a5d9c"/>
<circle cx="645.6" cy="2205.3" r="32.6" fill="#9062a6"/>
<circle cx="688.2" cy="2217.8" r="30.0" fill="#8a68ac"/>
<circle cx="575.4" cy="2210.3" r="35.0" fill="#a75a96"/>
<circle cx="520.3" cy="2220.3" r="32.6" fill="#b45890"/>
<circle cx="535.3" cy="2270.4" r="42.0" fill="#bd5386"/>
<circle cx="555.4" cy="2255.0" r="25.0" fill="#bc5486"/>
<circle cx="715.8" cy="2247.9" r="27.6" fill="#8c66a8"/>
<circle cx="768.4" cy="2239.1" r="37.6" fill="#846bac"/>
<circle cx="672.0" cy="2261.7" r="21.3" fill="#ac609b"/>
<circle cx="546.0" cy="2025.0" r="41.0" fill="#9360a1"/>
<circle cx="512.2" cy="2055.5" r="29.3" fill="#a3589b"/>
<circle cx="500.3" cy="2128.0" r="36.0" fill="#ac5897"/>
<circle cx="505.3" cy="2158.0" r="38.0" fill="#b05890"/>
<circle cx="460.2" cy="2216.5" r="20.0" fill="#c84762"/>
<circle cx="435.0" cy="2230.3" r="32.6" fill="#c94760"/>
<circle cx="427.6" cy="2270.4" r="32.6" fill="#ce4358"/>
<circle cx="412.3" cy="2279.3" r="33.0" fill="#ce4358"/>
<circle cx="393.0" cy="2296.0" r="22.0" fill="#d04156"/>
<circle cx="409.5" cy="2329.0" r="33.0" fill="#d24054"/>
<circle cx="464.6" cy="2323.4" r="30.0" fill="#ca4660"/>
<circle cx="517.0" cy="2331.7" r="41.0" fill="#c94760"/>
<circle cx="517.0" cy="2364.8" r="41.0" fill="#c94760"/>
<circle cx="475.7" cy="2375.8" r="24.8" fill="#c94760"/>
<circle cx="423.3" cy="2367.5" r="33.0" fill="#d73d4c"/>
<circle cx="417.0" cy="2397.0" r="43.6" fill="#d83c4b"/>
<circle cx="362.6" cy="2403.4" r="35.8" fill="#d83c4b"/>
<circle cx="318.5" cy="2422.7" r="22.0" fill="#db3945"/>
<circle cx="324.0" cy="2389.6" r="35.8" fill="#dd3842"/>
<circle cx="313.0" cy="2400.0" r="33.0" fill="#dd3741"/>
<circle cx="349.4" cy="2322.9" r="32.0" fill="#d63e4f"/>
<circle cx="301.1" cy="2344.0" r="42.7" fill="#de363e"/>
<circle cx="263.4" cy="2392.3" r="41.0" fill="#df353d"/>
<circle cx="260.0" cy="2417.0" r="25.0" fill="#df353d"/>
<circle cx="202.7" cy="2422.7" r="34.5" fill="#e13238"/>
<circle cx="215.0" cy="2431.0" r="27.6" fill="#e13339"/>
<circle cx="189.0" cy="2381.0" r="30.0" fill="#e23236"/>
<circle cx="227.5" cy="2356.5" r="30.0" fill="#e33236"/>
<circle cx="173.8" cy="2357.0" r="35.0" fill="#e33236"/>
<circle cx="212.4" cy="2337.7" r="37.8" fill="#e33236"/>
<circle cx="95.9" cy="2366.0" r="21.0" fill="#e5252e"/>
<circle cx="64.0" cy="2398.0" r="34.0" fill="#e5252e"/>
<circle cx="129.0" cy="2266.5" r="25.6" fill="#e32e32"/>
<circle cx="236.8" cy="2251.5" r="35.7" fill="#e0343a"/>
<circle cx="337.2" cy="2177.0" r="25.6" fill="#d44353"/>
<circle cx="315.8" cy="2071.0" r="15.4" fill="#d63e4f"/>
<circle cx="595.6" cy="1628.9" r="21.0" fill="#cb4b6d"/>
<circle cx="380.7" cy="1770.5" r="25.4" fill="#d0517b"/>
<circle cx="372.0" cy="1875.0" r="33.0" fill="#d25379"/>
<circle cx="547.4" cy="1853.9" r="21.0" fill="#9568a3"/>
<circle cx="1171.6" cy="1999.3" r="16.0" fill="#cb4b6d"/>
<circle cx="1183.3" cy="2054.4" r="35.7" fill="#ce5171"/>
<circle cx="1105.9" cy="2073.5" r="35.7" fill="#c55c95"/>
<circle cx="1324.8" cy="2099.8" r="25.9" fill="#de3847"/>
<circle cx="1125.2" cy="2130.5" r="38.4" fill="#c55890"/>
<circle cx="1037.2" cy="2183.5" r="16.0" fill="#b45c9b"/>
<circle cx="1173.5" cy="2275.9" r="41.2" fill="#d04f66"/>
<circle cx="1024.9" cy="2294.0" r="21.0" fill="#c5517b"/>
<circle cx="1003.2" cy="2332.6" r="32.0" fill="#c1517b"/>
<circle cx="1044.2" cy="2339.6" r="21.7" fill="#ce4766"/>
<circle cx="1417.9" cy="2395.8" r="29.2" fill="#e5232e"/>
<circle cx="1485.4" cy="2384.1" r="32.8" fill="#e51d29"/>
<circle cx="631.0" cy="2409.8" r="22.0" fill="#c94f75"/>
<circle cx="690.4" cy="2424.3" r="22.0" fill="#c54b75"/>
<circle cx="626.2" cy="2332.3" r="25.6" fill="#c15386"/>
<circle cx="868.7" cy="2251.5" r="30.0" fill="#ac5c9b"/>
<circle cx="897.0" cy="2232.7" r="17.0" fill="#b05c99"/>
<circle cx="929.6" cy="2240.2" r="26.0" fill="#b45a97"/>
</g>
<g font-size="21" text-anchor="middle" fill="#000" stroke="#000" stroke-width="0.3">
<text x="777.3" y="1144.0">Il3ra</text>
<text x="801.1" y="1171.4">Dpep2</text>
<text x="816.4" y="1193.2">Csf2rb2</text>
<text x="797.6" y="1210.9">Slc16a1</text>
<text x="846.4" y="1227.8">Ceacam1</text>
<text x="778.4" y="1249.2">Lphn2</text>
<text x="849.2" y="1249.2">Tnfrsf1b</text>
<text x="916.9" y="1249.2">Procr</text>
<text x="773.1" y="1270.3">Clec4a</text>
<text x="843.0" y="1270.3">Notch1</text>
<text x="903.8" y="1270.3">Cd28</text>
<text x="953.9" y="1270.3">Flrt2</text>
<text x="816.7" y="1289.8">Antxr2</text>
<text x="875.0" y="1289.8">Cd14</text>
<text x="933.8" y="1289.8">Plxdc1</text>
<text x="827.1" y="1309.4">Itgav</text>
<text x="886.8" y="1309.4">Slamf7</text>
<text x="958.6" y="1309.4">Ms4a6b</text>
<text x="850.9" y="1326.7">Itfg3</text>
<text x="904.1" y="1326.7">Plxnd1</text>
<text x="968.8" y="1326.7">Csf2rb</text>
<text x="843.6" y="1348.1">Dnase1l1</text>
<text x="926.3" y="1348.1">Cd300lf</text>
<text x="1009.0" y="1348.1">Smpdl3b</text>
<text x="739.7" y="1371.4">L1cam</text>
<text x="816.7" y="1367.7">Itgb3</text>
<text x="874.1" y="1367.7">Abca1</text>
<text x="937.6" y="1367.7">Nfam1</text>
<text x="995.1" y="1367.7">Igsf8</text>
<text x="1042.9" y="1367.7">Ptprj</text>
<text x="766.2" y="1389.5">Itga4</text>
<text x="825.0" y="1389.5">Notch2</text>
<text x="879.3" y="1389.5">Tlr4</text>
<text x="923.9" y="1389.5">Milr1</text>
<text x="969.5" y="1389.5">Ppt1</text>
<text x="1025.9" y="1389.5">Clec2d</text>
<text x="1091.4" y="1389.5">Icam2</text>
<text x="727.4" y="1410.2">Mfge8</text>
<text x="798.5" y="1410.2">Clec7a</text>
<text x="865.2" y="1410.2">Plxna1</text>
<text x="928.2" y="1410.2">Anpep</text>
<text x="994.9" y="1410.2">Adam9</text>
<text x="1058.5" y="1410.2">Glipr1</text>
<text x="1124.6" y="1410.2">Tmem2</text>
<text x="733.1" y="1430.8">Evi2a</text>
<text x="793.4" y="1430.8">Alcam</text>
<text x="853.0" y="1430.8">Cd36</text>
<text x="909.0" y="1430.8">Fcgr1</text>
<text x="969.2" y="1430.8">Itga6</text>
<text x="1034.4" y="1430.8">Adam17</text>
<text x="1098.3" y="1430.8">Il6st</text>
<text x="1150.0" y="1430.8">Mertk</text>
<text x="722.0" y="1450.4">Evi2b</text>
<text x="772.6" y="1450.4">Itga5</text>
<text x="829.1" y="1450.4">Fxyd5</text>
<text x="884.0" y="1450.4">Itgb1</text>
<text x="933.5" y="1450.4">Cd48</text>
<text x="980.5" y="1450.4">Cr1l</text>
<text x="1041.5" y="1450.4">Cd300lh</text>
<text x="1106.8" y="1450.4">Itgb5</text>
<text x="1159.4" y="1450.4">Fcgrt</text>
<text x="1201.9" y="1450.4">Pvr</text>
<text x="695.9" y="1471.4">Igsf6</text>
<text x="760.0" y="1471.4">Ms4a4a</text>
<text x="839.8" y="1471.4">Slc29a3</text>
<text x="913.2" y="1471.4">Fcgr2b</text>
<text x="976.1" y="1471.4">Emr1</text>
<text x="1021.2" y="1471.4">Tfrc</text>
<text x="1070.7" y="1471.4">Ncstn</text>
<text x="1137.6" y="1471.4">Entpd1</text>
<text x="1204.1" y="1471.4">Icam1</text>
<text x="699.4" y="1492.9">C5ar1</text>
<text x="762.2" y="1492.9">Clec4n</text>
<text x="822.0" y="1492.9">Ano6</text>
<text x="881.6" y="1492.9">Cd274</text>
<text x="941.0" y="1492.9">Cd93</text>
<text x="996.4" y="1492.9">Fcgr3</text>
<text x="1040.6" y="1492.9">Hfe</text>
<text x="1088.0" y="1492.9">P2rx7</text>
<text x="1150.6" y="1492.9">H2;T23</text>
<text x="1212.0" y="1492.9">Nptn</text>
<text x="704.1" y="1512.8">Sirpa</text>
<text x="756.8" y="1512.8">Cd44</text>
<text x="806.8" y="1512.8">B2m</text>
<text x="857.5" y="1512.8">Sirpa</text>
<text x="912.8" y="1512.8">Ptprc</text>
<text x="963.9" y="1512.8">Cd84</text>
<text x="1009.6" y="1512.8">Ly9</text>
<text x="1053.8" y="1512.8">Folr2</text>
<text x="1105.8" y="1509.8">Plaur</text>
<text x="1150.6" y="1512.8">Tlr2</text>
<text x="1210.5" y="1512.8">Tnfrsf26</text>
<text x="727.4" y="1532.3">Slc39a6</text>
<text x="794.7" y="1532.3">Itgb2</text>
<text x="855.3" y="1532.3">Plxnb2</text>
<text x="912.6" y="1532.3">Emb</text>
<text x="958.8" y="1532.3">Ldlr</text>
<text x="1009.6" y="1532.3">Lnpep</text>
<text x="1066.0" y="1532.3">Tlr13</text>
<text x="1111.5" y="1530.5">Bsg</text>
<text x="751.9" y="1553.0">Adam10</text>
<text x="817.1" y="1553.0">Nrp2</text>
<text x="865.6" y="1553.0">Nrp1</text>
<text x="928.8" y="1553.0">Cd300a</text>
<text x="991.7" y="1553.0">Itgax</text>
<text x="1041.9" y="1553.0">Cd72</text>
<text x="1091.7" y="1553.0">Lrp1</text>
<text x="1135.0" y="1553.0">Cpd</text>
<text x="767.5" y="1573.7">C3ar1</text>
<text x="832.0" y="1573.7">Slc7a8</text>
<text x="894.4" y="1573.7">Lilrb4</text>
<text x="959.2" y="1572.9">Atp1b3</text>
<text x="1033.5" y="1573.7">Cd180</text>
<text x="1100.6" y="1573.7">Lamp1</text>
<text x="1166.2" y="1573.7">Slc9a9</text>
<text x="787.6" y="1593.2">H2;D1</text>
<text x="860.5" y="1593.2">Cd200r1</text>
<text x="930.6" y="1592.5">Itm2c</text>
<text x="993.2" y="1593.2">Cadm1</text>
<text x="1061.1" y="1593.2">Gp49a</text>
<text x="1126.9" y="1594.4">Adam8</text>
<text x="761.8" y="1613.2">Sypl1</text>
<text x="892.1" y="1611.3">Cd200r1</text>
<text x="966.7" y="1611.3">Slc3a2</text>
<text x="1029.7" y="1612.0">Itgam</text>
<text x="1093.2" y="1614.3">Pira12</text>
<text x="903.8" y="1630.1">Clec12a</text>
<text x="995.9" y="1633.8">Tmem206</text>
<text x="1068.6" y="1635.7">Mrc1</text>
<text x="1122.9" y="1630.1">Ly86</text>
<text x="903.9" y="1646.2">H2;K1</text>
<text x="1020.5" y="1652.6">Slc7a5</text>
<text x="926.3" y="1668.8">Slc39a10</text>
<text x="1003.0" y="1673.3">Gba</text>
<text x="1058.5" y="1675.2">M6pr</text>
<text x="1118.4" y="1670.3">Lamp2</text>
<text x="919.4" y="1689.5">Enpp1</text>
<text x="969.5" y="1689.5">Ctsl</text>
<text x="1025.9" y="1694.0">Siglec1</text>
<text x="1074.8" y="1695.9">Tlr7</text>
<text x="1121.8" y="1693.2">Igf2r</text>
<text x="915.0" y="1707.8">Glg1</text>
<text x="963.2" y="1705.9">Lilrb3</text>
<text x="1018.4" y="1714.6">Pld4</text>
<text x="1076.7" y="1716.1">Stab1</text>
<text x="1147.7" y="1710.8">Galns</text>
<text x="854.7" y="1716.1">Ctss</text>
<text x="912.8" y="1731.1">Slc16a3</text>
<text x="1011.8" y="1731.1">Rftn1</text>
<text x="1076.7" y="1739.8">Scpep1</text>
<text x="761.8" y="1769.8">Plau</text>
<text x="893.8" y="1799.9">Grn</text>
<text x="1068.6" y="1769.8">Npc1</text>
<text x="1093.0" y="1789.8">Pld3</text>
<text x="713.5" y="1804.8">Atp1a1</text>
<text x="1048.1" y="1807.4">Mpeg1</text>
<text x="1104.9" y="1815.0">Malt1</text>
<text x="1177.6" y="1823.6">Manba</text>
<text x="751.5" y="1822.5">Cd47</text>
<text x="1111.1" y="1831.9">Naglu</text>
<text x="1179.1" y="1839.4">Pla2g15</text>
<text x="912.6" y="1858.2">Cd68</text>
<text x="1101.1" y="1851.4">Ctsa</text>
<text x="1207.3" y="1860.1">Gla</text>
<text x="798.7" y="1872.5">Msr1</text>
<text x="983.8" y="1877.7">Hexb</text>
<text x="1104.3" y="1871.4">Ctsz</text>
<text x="1157.9" y="1877.0">Ctsh</text>
<text x="1045.1" y="1884.5">Tpp1</text>
<text x="1214.3" y="1885.3">Gpnmb</text>
<text x="758.1" y="1890.2">Atp6v0a1</text>
<text x="869.4" y="1889.0">Vdac2</text>
<text x="951.9" y="1898.8">Abcg1</text>
<text x="803.0" y="1911.6">Asah1</text>
<text x="802.6" y="1927.7">Unc93b1</text>
<text x="789.1" y="1943.9">Coro2a</text>
<text x="938.5" y="1933.4">Hexa</text>
<text x="903.2" y="1960.5">Spag9</text>
<text x="778.2" y="1976.6">Hars</text>
<text x="794.2" y="1997.3">Slc25a13</text>
<text x="675.6" y="1932.6">Stom</text>
<text x="719.3" y="1946.0">Dld</text>
<text x="605.4" y="1983.5">Tcirg1</text>
<text x="684.0" y="1984.6">Atp6v1a</text>
<text x="628.6" y="2002.8">Erap1</text>
<text x="698.4" y="2010.5">Rbpj</text>
<text x="525.1" y="2022.1">Mmp12</text>
<text x="590.9" y="2020.4">Apeh</text>
<text x="896.1" y="2024.6">Synj1</text>
<text x="973.3" y="2024.6">Psd4</text>
<text x="598.4" y="2041.4">Eif2s1</text>
<text x="663.9" y="2043.2">Vim</text>
<text x="723.9" y="2050.2">Psmd7</text>
<text x="891.6" y="2052.6">Xpo1</text>
<text x="623.0" y="2059.6">Slc30a7</text>
<text x="507.9" y="2063.2">Uqcrc2</text>
<text x="740.5" y="2067.7">Psma1</text>
<text x="586.8" y="2075.4">Farsa</text>
<text x="659.8" y="2073.0">Coro1c</text>
<text x="932.6" y="2081.8">Mocos</text>
<text x="686.8" y="2090.5">Cand1</text>
<text x="743.5" y="2088.8">Tpp2</text>
<text x="596.3" y="2093.3">Arpc1b</text>
<text x="811.4" y="2094.0">Serpinb6</text>
<text x="666.5" y="2107.4">Psma7</text>
<text x="723.9" y="2109.8">Twf1</text>
<text x="766.0" y="2111.6">Lcp1</text>
<text x="877.0" y="2109.8">Apobr</text>
<text x="576.3" y="2113.3">Ube2d2</text>
<text x="484.2" y="2122.1">Eif2s3x</text>
<text x="637.7" y="2123.9">Rpn2</text>
<text x="694.4" y="2124.9">Acin1</text>
<text x="744.9" y="2127.4">Ldha</text>
<text x="810.7" y="2127.4">Txnrd1</text>
<text x="917.7" y="2127.4">Mtap</text>
<text x="581.2" y="2129.1">Pkm</text>
<text x="527.2" y="2144.9">Coro1a</text>
<text x="633.7" y="2144.9">Flna</text>
<text x="697.4" y="2144.9">Gm9774</text>
<text x="764.2" y="2144.9">Herc4</text>
<text x="842.6" y="2146.7">Hk3</text>
<text x="589.6" y="2150.2">Nmt1</text>
<text x="898.4" y="2162.5">Otub1</text>
<text x="506.1" y="2168.4">Gsn</text>
<text x="572.5" y="2169.5">Phb</text>
<text x="620.4" y="2168.4">Eno1</text>
<text x="677.4" y="2168.4">Psmd1</text>
<text x="734.4" y="2167.0">Cap1</text>
<text x="781.2" y="2168.4">Eef2</text>
<text x="892.6" y="2181.8">Tsg101</text>
<text x="561.4" y="2188.1">Wdr1</text>
<text x="613.3" y="2187.0">Actr3</text>
<text x="662.8" y="2188.8">Pgd</text>
<text x="711.1" y="2188.8">Actn4</text>
<text x="768.9" y="2187.0">Map4</text>
<text x="521.6" y="2209.8">Pitpna</text>
<text x="588.2" y="2206.3">Ywhaz</text>
<text x="644.0" y="2211.6">Lta4h</text>
<text x="702.3" y="2208.1">Lrrfip1</text>
<text x="800.0" y="2208.1">Picalm</text>
<text x="462.8" y="2222.1">Pfas</text>
<text x="574.7" y="2226.7">Gdi2</text>
<text x="691.4" y="2229.1">Vcp</text>
<text x="895.3" y="2230.9">Capza1</text>
<text x="517.2" y="2234.4">Pgk1</text>
<text x="557.5" y="2244.9">Tkt</text>
<text x="769.8" y="2244.9">Hcls1</text>
<text x="717.2" y="2248.4">Lpp</text>
<text x="930.4" y="2248.4">Eif4h</text>
<text x="337.2" y="2184.6">Cd81</text>
<text x="129.7" y="2272.2">Card19</text>
<text x="239.1" y="2258.3">Kiaa1033</text>
<text x="436.1" y="2238.3">Pltp</text>
<text x="433.3" y="2263.5">Arhgdib</text>
<text x="512.8" y="2257.1">Wasf2</text>
<text x="563.5" y="2263.5">Gpi</text>
<text x="414.1" y="2284.6">Srsf6</text>
<text x="511.3" y="2275.9">Pgam1</text>
<text x="563.0" y="2284.6">Pnp</text>
<text x="528.8" y="2295.9">Evl</text>
<text x="394.7" y="2306.0">Wipf1</text>
<text x="463.3" y="2313.5">Xpnpep1</text>
<text x="344.5" y="2318.4">Smtn</text>
<text x="506.6" y="2334.2">Xdh</text>
<text x="210.5" y="2341.0">Plin3</text>
<text x="294.2" y="2343.6">Fmnl1</text>
<text x="351.5" y="2339.8">Vasp</text>
<text x="413.5" y="2333.5">Apbb1ip</text>
<text x="415.0" y="2350.0">Gsr</text>
<text x="171.4" y="2364.3">Cars</text>
<text x="228.4" y="2362.4">Apoe</text>
<text x="94.0" y="2369.9">Golga4</text>
<text x="425.4" y="2369.9">Arhgap31</text>
<text x="509.8" y="2364.3">Fhod1</text>
<text x="158.3" y="2383.1">Top1</text>
<text x="260.3" y="2381.2">Cpsf6</text>
<text x="339.3" y="2383.1">Atp6v1e1</text>
<text x="52.6" y="2390.6">Iqca1l</text>
<text x="480.6" y="2388.7">Psmb3</text>
<text x="197.4" y="2401.9">Isyna1</text>
<text x="263.5" y="2402.6">Diap2</text>
<text x="319.5" y="2407.5">Diap1</text>
<text x="412.0" y="2403.8">Sfpq</text>
<text x="65.4" y="2416.9">Zfp995</text>
<text x="370.1" y="2418.8">Was</text>
<text x="185.3" y="2423.7">Slc39a7</text>
<text x="260.0" y="2423.7">Inf2</text>
<text x="318.6" y="2436.5">Sf3b4</text>
<text x="215.2" y="2442.5">Adsl</text>
<text x="1290.9" y="1931.9">Dnase2a</text>
<text x="1314.6" y="1956.5">Prrc2c</text>
<text x="1166.7" y="2006.3">Lgals8</text>
<text x="1178.8" y="2061.8">Creg1</text>
<text x="1102.3" y="2081.8">Pdxk</text>
<text x="1325.4" y="2108.1">Ifi30</text>
<text x="1126.0" y="2138.9">Lgals9</text>
<text x="1038.4" y="2188.8">Impa1</text>
<text x="1170.7" y="2285.3">Lgals3</text>
<text x="1024.7" y="2300.4">Pdcd6</text>
<text x="1002.3" y="2335.4">Ddb1</text>
<text x="1045.4" y="2348.4">Eif3l</text>
<text x="1416.8" y="2402.8">Specc1</text>
<text x="1010.7" y="2005.6">Spata5</text>
<text x="1099.8" y="1982.5">Clta</text>
<text x="1082.8" y="1956.5">Plbd2</text>
<text x="1055.8" y="1938.9">Gusb</text>
<text x="1068.1" y="1923.2">Ctsd</text>
<text x="1046.7" y="1906.3">Ctsb</text>
<text x="1137.0" y="1901.8">Tmem106a</text>
<text x="1153.3" y="1919.3">Glb1</text>
<text x="1221.1" y="1912.3">Galc</text>
<text x="1211.9" y="1931.9">Gns</text>
<text x="1137.5" y="1943.2">Tpi1</text>
<text x="1219.5" y="1947.4">Lgals3bp</text>
<text x="971.2" y="1951.9">Vdac3</text>
<text x="979.5" y="1973.0">Wnk1</text>
<text x="672.3" y="2269.5">Tars</text>
<text x="627.2" y="2338.0">Ppp2r2a</text>
<text x="866.5" y="2259.0">Cast</text>
<text x="595.4" y="1635.4">Cmtm3</text>
<text x="380.5" y="1778.4">Tgfbi</text>
<text x="372.1" y="1882.4">Rps7</text>
<text x="552.0" y="1859.0">Scamp4</text>
<text x="316.2" y="2078.4">Nfkb2</text>
<text x="629.4" y="2413.3">Wbp2</text>
<text x="691.0" y="2436.0">Mapk1ip1l</text>
<text x="1485.7" y="2389.6">Tfg</text>
<text x="1252.8" y="1845.7">Dpp7</text>
</g>
<text x="443.5" y="1088.6" font-size="31" font-weight="bold" fill="#231f20">c</text>
<text x="779" y="1101.5" font-size="24.7" font-weight="bold" font-style="italic" fill="#16709a" text-anchor="middle">S. cerevisiae</text>
<text x="0" y="2469.5" font-size="24.8" letter-spacing="0.3" font-weight="bold" font-style="italic" fill="#45464a">E. coli</text>
<text x="1446" y="2468.8" font-size="24.8" font-weight="bold" font-style="italic" fill="#f0a848">S. aureus</text>
<text x="1522.6" y="1456.5" font-size="24.8" text-anchor="middle">Abundance (Quantile)</text>
<circle cx="1377.5" cy="1521" r="15.00" fill="none" stroke="#000" stroke-width="2.5"/>
<circle cx="1409.3" cy="1521" r="18.07" fill="none" stroke="#000" stroke-width="2.5"/>
<circle cx="1441.1" cy="1521" r="21.14" fill="none" stroke="#000" stroke-width="2.5"/>
<circle cx="1472.9" cy="1521" r="24.21" fill="none" stroke="#000" stroke-width="2.5"/>
<circle cx="1504.7" cy="1521" r="27.28" fill="none" stroke="#000" stroke-width="2.5"/>
<circle cx="1536.5" cy="1521" r="30.35" fill="none" stroke="#000" stroke-width="2.5"/>
<circle cx="1568.3" cy="1521" r="33.42" fill="none" stroke="#000" stroke-width="2.5"/>
<circle cx="1600.1" cy="1521" r="36.49" fill="none" stroke="#000" stroke-width="2.5"/>
<circle cx="1631.9" cy="1521" r="39.56" fill="none" stroke="#000" stroke-width="2.5"/>
<circle cx="1663.7" cy="1521" r="42.63" fill="none" stroke="#000" stroke-width="2.5"/>
<text x="1376.8" y="1604.3" font-size="24.8" text-anchor="middle">0</text>
<text x="1665.3" y="1604.3" font-size="24.8" text-anchor="middle">1</text>
<text x="1521.3" y="1696.3" font-size="24.8" text-anchor="middle">Relative Specificity</text>
<defs><linearGradient id="cbar" x1="0" x2="1" y1="0" y2="0"><stop offset="0" stop-color="#4a7fc0"/><stop offset="0.12" stop-color="#5f78b0"/><stop offset="0.3" stop-color="#876b91"/><stop offset="0.5" stop-color="#9f6478"/><stop offset="0.7" stop-color="#b95a66"/><stop offset="0.88" stop-color="#d4444f"/><stop offset="1" stop-color="#e52d38"/></linearGradient></defs>
<rect x="1371.9" y="1713.2" width="303.8" height="45.5" fill="url(#cbar)"/>
<text x="1372" y="1785.3" font-size="24.8">Low</text>
<text x="1669.5" y="1785.3" font-size="24.8" text-anchor="end">High</text>
</svg></body></html>
